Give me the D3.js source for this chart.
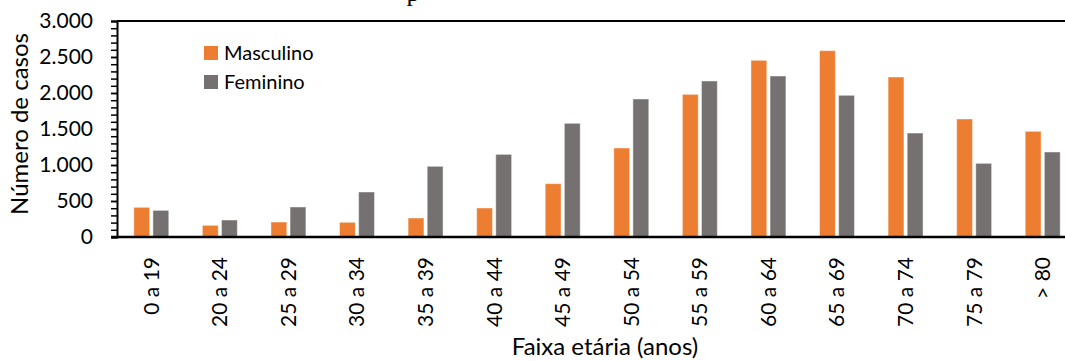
<!DOCTYPE html>
<html>
<head>
<meta charset="utf-8">
<script src="https://cdn.jsdelivr.net/npm/d3@7"></script>
<style>
  body { margin: 0; background: #fff; }
  text { font-family: Lato, "Noto Sans", sans-serif; fill: #000; }
</style>
</head>
<body>
<div id="chart"></div>
<script>
const faixas = ["0 a 19", "20 a 24", "25 a 29", "30 a 34", "35 a 39", "40 a 44", "45 a 49",
  "50 a 54", "55 a 59", "60 a 64", "65 a 69", "70 a 74", "75 a 79", "> 80"];
const masculino = [412, 162, 208, 204, 264, 403, 741, 1236, 1981, 2454, 2588, 2222, 1639, 1468];
const feminino = [370, 236, 417, 625, 982, 1148, 1579, 1917, 2167, 2236, 1968, 1444, 1023, 1181];
const series = ["Masculino", "Feminino"];
const colors = ["#ED7D31", "#767171"];
const yTicks = [0, 500, 1000, 1500, 2000, 2500, 3000];

const width = 1065, height = 361;
const margin = { top: 21, right: -12, bottom: 124, left: 117 };
const innerWidth = width - margin.left - margin.right;
const innerHeight = height - margin.top - margin.bottom;

const ptBR = d3.formatLocale({ decimal: ",", thousands: ".", grouping: [3], currency: ["R$", ""] });
const fmt = ptBR.format(",d");

const svg = d3.select("#chart").append("svg")
  .attr("width", width)
  .attr("height", height);

// cut-off caption above the chart
svg.append("text")
  .attr("x", 413)
  .attr("y", 1)
  .attr("text-anchor", "middle")
  .style("font-family", "'Liberation Serif', serif")
  .style("font-size", "26px")
  .text("p");

const chartArea = svg.append("g")
  .attr("transform", `translate(${margin.left}, ${margin.top})`);

const x = d3.scaleBand().domain(faixas).range([0, innerWidth])
  .paddingInner(0.49).paddingOuter(0.245);
const xSub = d3.scaleBand().domain(series).range([0, x.bandwidth()]).paddingInner(0.17);
const y = d3.scaleLinear().domain([0, 3000]).range([innerHeight, 0]);

const rows = faixas.map((f, i) => ({ faixa: f, values: [masculino[i], feminino[i]] }));

const groups = chartArea.selectAll("g.group")
  .data(rows)
  .join("g")
  .attr("class", "group")
  .attr("transform", (d) => `translate(${x(d.faixa)}, 0)`);

groups.selectAll("rect")
  .data((d) => d.values.map((v, k) => ({ key: series[k], v, k })))
  .join("rect")
  .attr("x", (d) => xSub(d.key))
  .attr("y", (d) => y(d.v))
  .attr("width", xSub.bandwidth())
  .attr("height", (d) => innerHeight - y(d.v))
  .attr("fill", (d) => colors[d.k])
  .attr("stroke", "#fff")
  .attr("stroke-opacity", 0.45)
  .attr("stroke-width", 1);

// frame top line
chartArea.append("line")
  .attr("x1", 0).attr("x2", width)
  .attr("y1", 0).attr("y2", 0)
  .attr("stroke", "#000").attr("stroke-width", 2);

// y axis: minor ticks every 100, labels every 500
const yMinor = chartArea.append("g")
  .call(d3.axisLeft(y).tickValues(d3.range(0, 3001, 100)).tickSize(6).tickFormat(""));
yMinor.selectAll("line").attr("stroke", "#000").attr("stroke-width", 1.5);
yMinor.select(".domain").attr("stroke", "#000").attr("stroke-width", 2);

const yAxis = chartArea.append("g")
  .call(d3.axisLeft(y).tickValues(yTicks).tickSize(6).tickPadding(18).tickFormat(fmt));
yAxis.select(".domain").remove();
yAxis.selectAll("line").attr("stroke", "#000").attr("stroke-width", 1.5);
yAxis.selectAll("text")
  .style("font-family", "Lato, sans-serif")
  .style("font-size", "21px")
  .attr("fill", "#000");

// x axis
const xAxis = chartArea.append("g")
  .attr("transform", `translate(0, ${innerHeight})`)
  .call(d3.axisBottom(x).tickSize(0));
xAxis.select(".domain").attr("stroke", "#000").attr("stroke-width", 2.5)
  .attr("d", `M-6,0H${width}`);
xAxis.selectAll("text")
  .style("font-family", "Lato, sans-serif")
  .style("font-size", "21px")
  .attr("fill", "#000")
  .attr("text-anchor", "end")
  .attr("transform", "rotate(-90)")
  .attr("x", -20)
  .attr("y", 0)
  .attr("dy", "0.35em");

// axis titles
svg.append("text")
  .attr("x", 605)
  .attr("y", 355)
  .attr("text-anchor", "middle")
  .style("font-size", "24px")
  .text("Faixa etária (anos)");

svg.append("text")
  .attr("transform", "translate(28, 124) rotate(-90)")
  .attr("text-anchor", "middle")
  .style("font-size", "24px")
  .text("Número de casos");

// legend
const legend = svg.append("g").attr("transform", "translate(204, 46)");
const item = legend.selectAll("g")
  .data(series)
  .join("g")
  .attr("transform", (d, i) => `translate(0, ${i * 29})`);
item.append("rect")
  .attr("width", 14).attr("height", 14)
  .attr("fill", (d, i) => colors[i]);
item.append("text")
  .attr("x", 20)
  .attr("y", 14)
  .style("font-size", "20px")
  .text((d) => d);
</script>
</body>
</html>
